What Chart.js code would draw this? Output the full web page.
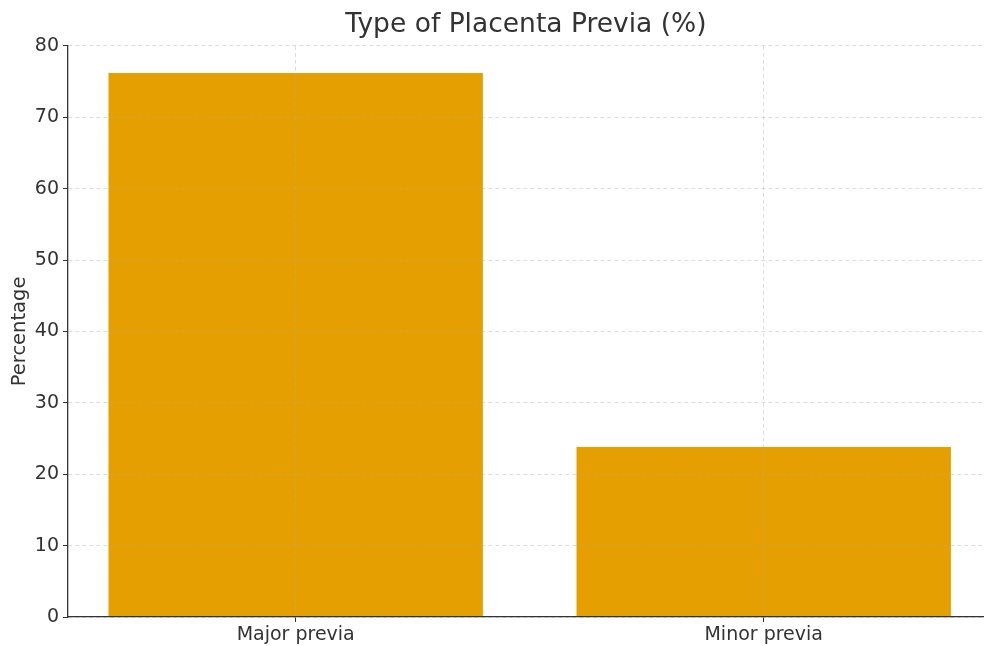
<!DOCTYPE html>
<html>
<head>
<meta charset="utf-8">
<script src="https://cdn.jsdelivr.net/npm/chart.js@4/dist/chart.umd.min.js"></script>
<style>
  html, body { margin: 0; padding: 0; background: #fff; }
  #wrap { width: 984px; height: 646px; }
</style>
</head>
<body>
<div id="wrap"><canvas id="chart"></canvas></div>
<script>
const categories = ["Major previa", "Minor previa"];
const percentages = [76.2, 23.8];
const yTicks = [0, 10, 20, 30, 40, 50, 60, 70, 80];

const textColor = "#333333";
const gridColor = "rgba(170,170,170,0.4)";

const ctx = document.getElementById("chart").getContext("2d");
new Chart(ctx, {
    type: "bar",
    data: {
        datasets: [{
            data: categories.map((c, i) => ({ x: i, y: percentages[i] })),
            backgroundColor: "#E5A000",
            borderWidth: 0,
            categoryPercentage: 0.8,
            barPercentage: 1.0
        }]
    },
    options: {
        responsive: true,
        maintainAspectRatio: false,
        animation: false,
        layout: { padding: 0 },
        plugins: {
            legend: { display: false },
            tooltip: { enabled: false },
            title: {
                display: true,
                text: "Type of Placenta Previa (%)",
                fullSize: false,
                color: textColor,
                font: { family: "DejaVu Sans", size: 26.5, weight: "normal" },
                padding: { top: 9, bottom: 5 }
            }
        },
        scales: {
            x: {
                type: "linear",
                min: -0.4865,
                max: 1.4707,
                offset: false,
                z: 1,
                afterBuildTicks: s => { s.ticks = categories.map((c, i) => ({ value: i })); },
                afterFit: s => { s.height = 29; },
                ticks: {
                    callback: v => categories[v],
                    color: textColor,
                    font: { family: "DejaVu Sans", size: 19 },
                    padding: 2,
                    maxRotation: 0
                },
                grid: {
                    offset: false,
                    z: 1,
                    color: gridColor,
                    tickColor: textColor,
                    tickLength: 5
                },
                border: { color: textColor, width: 1.3, dash: [4, 3], z: 2 }
            },
            y: {
                min: 0,
                max: 80,
                z: 1,
                afterBuildTicks: s => { s.ticks = yTicks.map(v => ({ value: v })); },
                afterFit: s => { s.width = 68; },
                ticks: {
                    color: textColor,
                    font: { family: "DejaVu Sans", size: 19 },
                    padding: 4
                },
                grid: {
                    z: 1,
                    color: gridColor,
                    tickColor: textColor,
                    tickLength: 5
                },
                border: { color: textColor, width: 1.3, dash: [4, 3], z: 2 },
                title: {
                    display: true,
                    text: "Percentage",
                    color: textColor,
                    font: { family: "DejaVu Sans", size: 19.5 },
                    padding: { top: 8, bottom: 0 }
                }
            }
        }
    }
});
</script>
</body>
</html>
